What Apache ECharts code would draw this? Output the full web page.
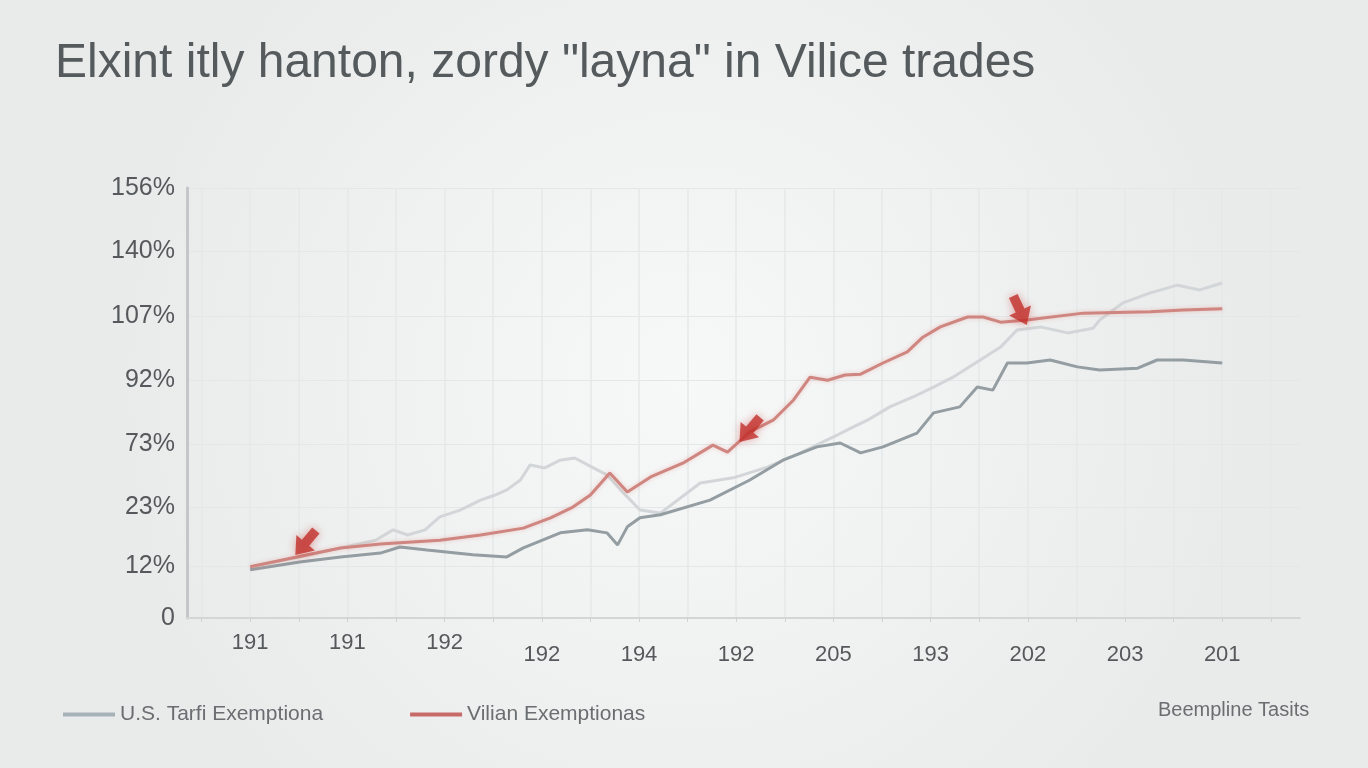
<!DOCTYPE html>
<html>
<head>
<meta charset="utf-8">
<script src="https://cdn.jsdelivr.net/npm/echarts@6/dist/echarts.min.js"></script>
<style>
html,body{margin:0;padding:0;width:1368px;height:768px;overflow:hidden;background:#eef0f0;}
#c{width:1368px;height:768px;}
</style>
</head>
<body>
<div id="c"></div>
<script>
// ---- Text ----
var titleText = 'Elxint itly hanton, zordy "layna" in Vilice trades';
var seriesNames = ['U.S. Tarfi Exemptiona', 'Vilian Exemptionas', 'Beempline Tasits'];

// ---- Axis ticks ----
var xTickValues = [0, 10, 20, 30, 40, 50, 60, 70, 80, 90, 100];
var xTickLabels = ['191', '191', '192', '192', '194', '192', '205', '193', '202', '203', '201'];
var yTickValues = [0, 12.1, 25.8, 40.5, 55.3, 70.2, 85.3, 100];
var yTickLabels = ['0', '12%', '23%', '73%', '92%', '107%', '140%', '156%'];

// ---- Series: U.S. Tarfi Exemptiona (dark gray) ----
var usX = [0, 5.1, 9.3, 13.4, 15.4, 18.2, 22.9, 26.4, 28.1, 31.9, 34.7, 36.7, 37.8, 38.8, 40.1, 42.2, 47.3, 51.4, 54.8, 58.3, 60.7, 62.8, 65.1, 68.6, 70.3, 73.0, 74.8, 76.4, 77.9, 79.9, 82.3, 85.1, 87.4, 91.3, 93.3, 96.0, 100];
var usY = [11.2, 13.0, 14.2, 15.1, 16.5, 15.8, 14.7, 14.2, 16.3, 19.8, 20.5, 19.8, 17.0, 21.2, 23.3, 24.0, 27.4, 32.1, 36.7, 39.8, 40.7, 38.4, 39.8, 43.0, 47.7, 49.1, 53.7, 53.0, 59.3, 59.3, 60.0, 58.4, 57.7, 58.1, 60.0, 60.0, 59.3];

// ---- Series: Vilian Exemptionas (red) ----
var vilX = [0, 5.9, 9.3, 13.4, 19.5, 23.7, 28.1, 30.9, 33.2, 35.0, 37.0, 38.8, 41.2, 44.5, 47.6, 49.1, 51.4, 53.8, 55.9, 57.6, 59.4, 61.2, 62.8, 65.1, 67.6, 69.2, 71.0, 73.8, 75.4, 77.2, 79.9, 85.7, 92.6, 96.0, 100];
var vilY = [11.9, 14.7, 16.3, 17.2, 18.1, 19.3, 20.9, 23.3, 25.8, 28.6, 33.7, 29.3, 32.8, 36.0, 40.2, 38.6, 43.3, 46.0, 50.7, 56.0, 55.3, 56.5, 56.7, 59.3, 61.9, 65.3, 67.7, 70.0, 70.0, 68.8, 69.3, 70.9, 71.2, 71.6, 71.9];

// ---- Series: Beempline Tasits (light gray) ----
var bmX = [0, 5.1, 9.3, 12.9, 14.7, 16.2, 18.0, 19.5, 21.6, 23.7, 25.2, 26.4, 27.8, 28.8, 30.3, 31.9, 33.4, 35.3, 36.7, 38.1, 40.1, 42.2, 46.3, 49.7, 53.2, 56.6, 60.0, 62.0, 63.5, 65.8, 68.2, 70.3, 72.3, 75.1, 77.2, 78.9, 81.3, 84.1, 86.7, 87.4, 89.8, 92.6, 95.4, 97.7, 100];
var bmY = [11.9, 14.2, 16.3, 18.1, 20.5, 19.3, 20.5, 23.5, 25.1, 27.4, 28.6, 29.8, 32.1, 35.6, 34.9, 36.7, 37.2, 34.9, 33.3, 29.8, 25.1, 24.4, 31.4, 32.6, 35.1, 38.4, 42.1, 44.4, 46.0, 49.1, 51.4, 53.7, 56.0, 60.0, 63.0, 67.0, 67.7, 66.3, 67.4, 69.3, 73.3, 75.6, 77.4, 76.3, 77.9];

// ---- Arrow annotations ----
var arrowX = [5.7, 51.4, 79.2];
var arrowY = [17.5, 43.8, 71.5];
var arrowRot = [-40, -40, 25];

function zip(xs, ys) { return xs.map(function (x, i) { return [x, ys[i]]; }); }

var chart = echarts.init(document.getElementById('c'), null, { renderer: 'canvas' });
var FONT = '"Liberation Sans", Arial, sans-serif';

var option = {
  animation: false,
  backgroundColor: {
    type: 'radial', x: 0.5, y: 0.5, r: 0.75,
    colorStops: [{ offset: 0, color: '#f7f8f8' }, { offset: 1, color: '#e9ebeb' }]
  },
  title: {
    text: titleText, left: 50, top: 35,
    textStyle: { fontFamily: FONT, fontSize: 48, fontWeight: 'normal', color: '#555a5c' }
  },
  legend: {
    left: 58, top: 699, itemWidth: 52, itemHeight: 4, itemGap: 87, icon: 'rect',
    data: [seriesNames[0], seriesNames[1]],
    textStyle: { fontFamily: FONT, fontSize: 21, color: '#6a6e70' }
  },
  graphic: [{
    type: 'text', left: 1158, top: 700,
    style: { text: seriesNames[2], fontFamily: FONT, fontSize: 20, fill: '#6a6e70' }
  }],
  grid: { left: 187, right: 68, top: 188, bottom: 150 },
  xAxis: {
    type: 'value', min: -6.5, max: 108,
    axisLine: { show: true, lineStyle: { color: '#d3d6d7', width: 2 } },
    axisTick: { show: true, customValues: [-5, 0, 5, 10, 15, 20, 25, 30, 35, 40, 45, 50, 55, 60, 65, 70, 75, 80, 85, 90, 95, 100, 105], length: 4, lineStyle: { color: '#cfd2d3' } },
    axisLabel: {
      customValues: xTickValues,
      formatter: function (v) {
        var i = xTickValues.indexOf(Math.round(v));
        var t = i >= 0 ? xTickLabels[i] : '';
        return (i >= 0 && i < 3) ? '{a|' + t + '}' : '{b|' + t + '}';
      },
      rich: {
        a: { fontFamily: FONT, fontSize: 22, color: '#55595b', padding: [6, 0, 0, 0] },
        b: { fontFamily: FONT, fontSize: 22, color: '#55595b', padding: [18, 0, 0, 0] }
      }
    },
    splitLine: { show: true, lineStyle: { color: '#e5e8e9', width: 1.5 } }
  },
  yAxis: {
    type: 'value', min: 0, max: 100,
    axisLine: { show: true, onZero: false, lineStyle: { color: '#c3c7c9', width: 3 } },
    axisTick: { show: false, customValues: yTickValues },
    axisLabel: {
      customValues: yTickValues, margin: 12,
      formatter: function (v) {
        var best = 0;
        for (var i = 0; i < yTickValues.length; i++) if (Math.abs(yTickValues[i] - v) < Math.abs(yTickValues[best] - v)) best = i;
        return yTickLabels[best];
      },
      fontFamily: FONT, fontSize: 25, color: '#55595b'
    },
    splitLine: { show: true, lineStyle: { color: '#e4e7e8', width: 1 } }
  },
  series: [
    {
      name: seriesNames[2], type: 'line', data: zip(bmX, bmY), symbol: 'none', z: 2,
      lineStyle: { color: '#d2d6d8', width: 3 }, itemStyle: { color: '#d2d6d8' }
    },
    {
      name: seriesNames[0], type: 'line', data: zip(usX, usY), symbol: 'none', z: 3,
      lineStyle: { color: '#949da2', width: 3 }, itemStyle: { color: '#a7b2b8' }
    },
    {
      name: seriesNames[1], type: 'line', data: zip(vilX, vilY), symbol: 'none', z: 4,
      lineStyle: { color: '#cf8580', width: 3, shadowBlur: 4, shadowColor: 'rgba(220,120,110,0.35)' }, itemStyle: { color: '#c86a68' }
    },
    {
      name: 'arrows', type: 'scatter', z: 6,
      data: arrowX.map(function (x, i) { return { value: [x, arrowY[i]], symbolRotate: arrowRot[i] }; }),
      symbol: 'path://M-4,-12 L4,-12 L4,0 L10,0 L0,12 L-10,0 L-4,0 Z',
      symbolSize: [24, 32],
      itemStyle: { color: '#c22f2a', shadowBlur: 8, shadowColor: 'rgba(200,40,40,0.5)' }
    }
  ]
};
chart.setOption(option);
</script>
</body>
</html>
